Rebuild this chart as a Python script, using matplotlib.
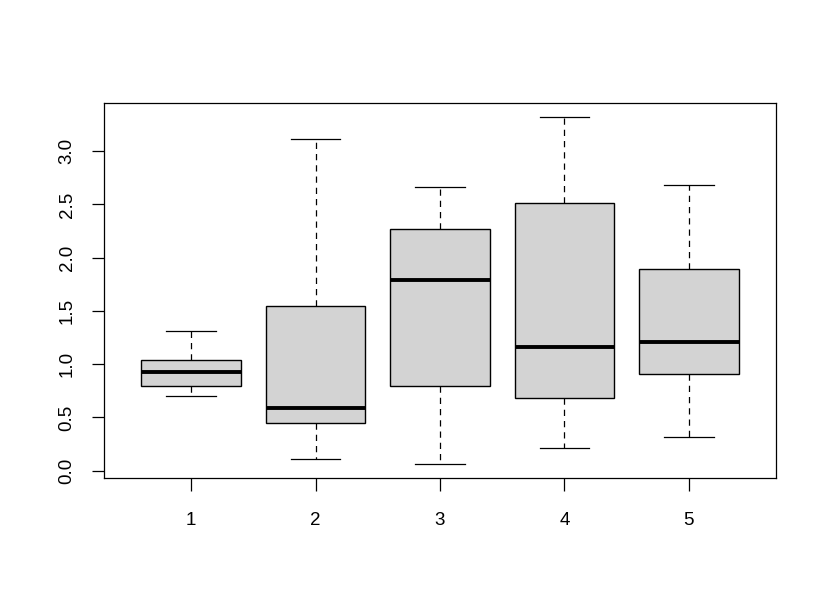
import matplotlib
matplotlib.use("Agg")
import matplotlib.pyplot as plt

groups = ["1", "2", "3", "4", "5"]
whislo = [0.702, 0.106, 0.059, 0.209, 0.312]
q1 = [0.799, 0.452, 0.796, 0.681, 0.905]
med = [0.930, 0.587, 1.788, 1.158, 1.205]
q3 = [1.039, 1.548, 2.269, 2.509, 1.891]
whishi = [1.311, 3.115, 2.659, 3.324, 2.678]
yticks = [0.0, 0.5, 1.0, 1.5, 2.0, 2.5, 3.0]

plt.rcParams['font.family'] = ['Liberation Sans', 'DejaVu Sans']

fig = plt.figure(figsize=(8.3, 6.08), dpi=100)
ax = fig.add_axes([104/830, 1 - 478.3/608, (776-104)/830, (478.3-102.7)/608])

stats = []
for i, g in enumerate(groups):
    stats.append(dict(label=g, whislo=whislo[i], q1=q1[i], med=med[i],
                      q3=q3[i], whishi=whishi[i], fliers=[]))

pos = list(range(1, len(groups) + 1))
ax.bxp(stats, positions=pos, widths=0.8, patch_artist=True, showfliers=False,
       boxprops=dict(facecolor='#D3D3D3', edgecolor='black', linewidth=1.0),
       medianprops=dict(color='black', linewidth=2.8, solid_capstyle='butt'),
       whiskerprops=dict(color='black', linewidth=0.9, linestyle=(0, (5, 4))),
       capprops=dict(color='black', linewidth=0.9),
       capwidths=0.4)

ymin = min(whislo); ymax = max(whishi)
r = ymax - ymin
ax.set_ylim(ymin - 0.04 * r, ymax + 0.04 * r)
ax.set_xlim(0.3, 5.7)
ax.set_xticks(pos)
ax.set_xticklabels(groups)
ax.set_yticks(yticks)
ax.set_yticklabels([f"{v:.1f}" for v in yticks], rotation=90, va='center')
ax.tick_params(axis='both', direction='out', length=9, width=0.9, labelsize=13.5, color='black')
ax.tick_params(axis='x', pad=15)
ax.tick_params(axis='y', pad=11.5)
for s in ax.spines.values():
    s.set_linewidth(0.9)

fig.savefig("out.png", dpi=100)
